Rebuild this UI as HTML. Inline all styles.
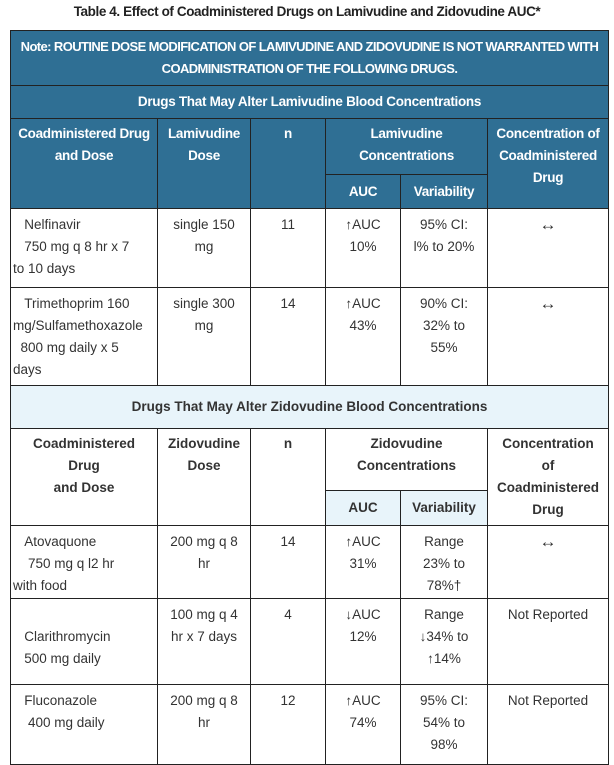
<!DOCTYPE html>
<html><head><meta charset="utf-8"><style>
html,body{margin:0;padding:0;background:#fff;width:614px;height:765px;overflow:hidden}
body{font-family:"Liberation Sans",sans-serif;font-size:13.5px;color:#333}
.title{position:absolute;top:4px;left:0;width:614px;text-align:center;font-weight:bold;font-size:13.5px;color:#222;letter-spacing:-0.4px}
table{position:absolute;top:30px;left:10px;border-collapse:collapse;table-layout:fixed;width:598px}
td{border:1px solid #222;text-align:center;vertical-align:top;padding:0 2px;line-height:22px;box-sizing:border-box;white-space:nowrap;overflow:hidden}
.d{background:#2f6f94;color:#fff;font-weight:bold;letter-spacing:-0.3px}
.l{background:#e8f4fa;font-weight:bold}
.w{font-weight:bold}
.m{vertical-align:middle}
.lt{text-align:left}
.a{font-size:17px}
.p{padding-top:5px}
</style></head><body>
<div class="title">Table 4. Effect of Coadministered Drugs on Lamivudine and Zidovudine AUC*</div>
<table>
<colgroup><col style="width:147px"><col style="width:93px"><col style="width:75px"><col style="width:75px"><col style="width:87px"><col style="width:121px"></colgroup>
<tr style="height:55px"><td class="d m" colspan="6" style="font-size:13px;letter-spacing:-0.6px">Note: ROUTINE DOSE MODIFICATION OF LAMIVUDINE AND ZIDOVUDINE IS NOT WARRANTED WITH<br>COADMINISTRATION OF THE FOLLOWING DRUGS.</td></tr>
<tr style="height:33px"><td class="d m" colspan="6">Drugs That May Alter Lamivudine Blood Concentrations</td></tr>
<tr style="height:56px"><td class="d" rowspan="2" style="padding-top:4px">Coadministered Drug<br>and Dose</td><td class="d" rowspan="2" style="padding-top:4px">Lamivudine<br>Dose</td><td class="d" rowspan="2" style="padding-top:4px">n</td><td class="d" colspan="2" style="padding-top:4px">Lamivudine<br>Concentrations</td><td class="d" rowspan="2" style="padding-top:4px">Concentration of<br>Coadministered<br>Drug</td></tr>
<tr style="height:34px"><td class="d m">AUC</td><td class="d m">Variability</td></tr>
<tr style="height:79px"><td class="lt p">&nbsp;&nbsp;&nbsp;Nelfinavir<br>&nbsp;&nbsp;&nbsp;750 mg q 8 hr x 7<br>to 10 days</td><td class="p">single 150<br>mg</td><td class="p">11</td><td class="p">↑AUC<br>10%</td><td class="p">95% CI:<br>l% to 20%</td><td class="p a">↔</td></tr>
<tr style="height:98px"><td class="lt p">&nbsp;&nbsp;&nbsp;Trimethoprim 160<br>mg/Sulfamethoxazole<br>&nbsp;&nbsp;800 mg daily x 5<br>days</td><td class="p">single 300<br>mg</td><td class="p">14</td><td class="p">↑AUC<br>43%</td><td class="p">90% CI:<br>32% to<br>55%</td><td class="p a">↔</td></tr>
<tr style="height:43px"><td class="l m" colspan="6">Drugs That May Alter Zidovudine Blood Concentrations</td></tr>
<tr style="height:62px"><td class="w" rowspan="2" style="padding-top:4px">Coadministered<br>Drug<br>and Dose</td><td class="w" rowspan="2" style="padding-top:4px">Zidovudine<br>Dose</td><td class="w" rowspan="2" style="padding-top:4px">n</td><td class="w" colspan="2" style="padding-top:4px">Zidovudine<br>Concentrations</td><td class="w" rowspan="2" style="padding-top:4px">Concentration<br>of<br>Coadministered<br>Drug</td></tr>
<tr style="height:35px"><td class="l m">AUC</td><td class="l m">Variability</td></tr>
<tr style="height:73px"><td class="lt p">&nbsp;&nbsp;&nbsp;Atovaquone<br>&nbsp;&nbsp;&nbsp;&nbsp;750 mg q l2 hr<br>with food</td><td class="p">200 mg q 8<br>hr</td><td class="p">14</td><td class="p">↑AUC<br>31%</td><td class="p">Range<br>23% to<br>78%†</td><td class="p a">↔</td></tr>
<tr style="height:86px"><td class="lt" style="padding-top:27px">&nbsp;&nbsp;&nbsp;Clarithromycin<br>&nbsp;&nbsp;&nbsp;500 mg daily</td><td class="p">100 mg q 4<br>hr x 7 days</td><td class="p">4</td><td class="p">↓AUC<br>12%</td><td class="p">Range<br>↓34% to<br>↑14%</td><td class="p">Not Reported</td></tr>
<tr style="height:80px"><td class="lt p">&nbsp;&nbsp;&nbsp;Fluconazole<br>&nbsp;&nbsp;&nbsp;&nbsp;400 mg daily</td><td class="p">200 mg q 8<br>hr</td><td class="p">12</td><td class="p">↑AUC<br>74%</td><td class="p">95% CI:<br>54% to<br>98%</td><td class="p">Not Reported</td></tr>
</table>
</body></html>
